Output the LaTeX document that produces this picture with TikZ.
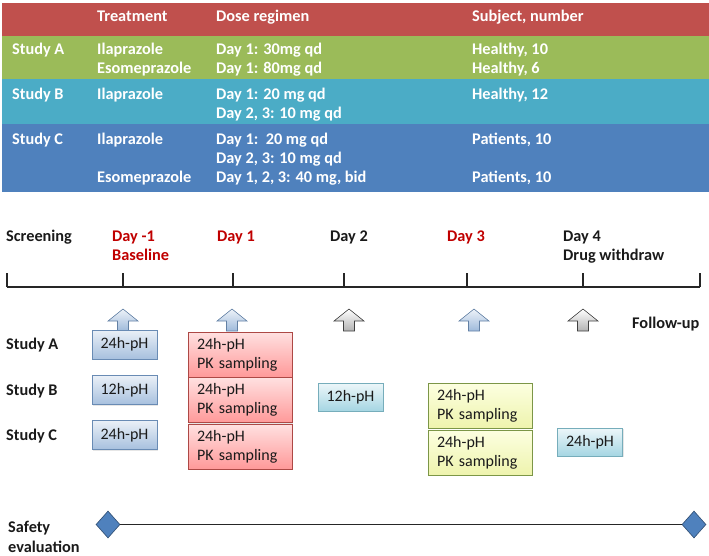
\documentclass[tikz,border=0pt]{standalone}
\usepackage{fontspec}
\setmainfont{Carlito}
\usetikzlibrary{shapes.geometric,shadows}
\definecolor{tabred}{HTML}{C0504D}
\definecolor{tabgreen}{HTML}{9BBB59}
\definecolor{tabcyan}{HTML}{4BACC6}
\definecolor{tabblue}{HTML}{4F81BD}
\definecolor{dayred}{HTML}{C00000}
\definecolor{txt}{HTML}{1A1A1A}
\tikzset{
  ttxt/.style={anchor=base west,inner sep=0pt,text=white,font=\fontsize{16.3}{19}\selectfont\bfseries},
  ltxt/.style={anchor=base west,inner sep=0pt,text=txt,font=\fontsize{16.3}{19}\selectfont\bfseries},
  rtxt/.style={ltxt,text=dayred},
  boxbase/.style={draw,rectangle,inner sep=0pt,text=txt,font=\fontsize{16}{19}\selectfont,
     drop shadow={opacity=0.2,shadow xshift=1.2pt,shadow yshift=-1.2pt}},
  bluebox/.style={boxbase,draw=tabblue!85!black!80,top color=tabblue!12!white,bottom color=tabblue!50!white,minimum width=65pt,minimum height=29pt},
  cyanbox/.style={boxbase,draw=tabcyan!80!black!70,top color=tabcyan!10!white,bottom color=tabcyan!50!white,minimum width=65pt,minimum height=28pt},
  redbox/.style={boxbase,draw=tabred!90!black,top color=red!12!white,bottom color=red!40!white,text width=86pt,align=left,inner xsep=9pt,minimum height=45pt},
  greenbox/.style={boxbase,draw=tabgreen!80!black,top color=green!8!yellow!12!white,bottom color=tabgreen!45!yellow!38!white,text width=86pt,align=left,inner xsep=9pt,minimum height=45pt},
  blueup/.style={draw=tabblue!75!black!80,line width=0.6pt,top color=tabblue!10!white,bottom color=tabblue!55!white},
  grayup/.style={draw=black!75,line width=0.6pt,top color=white,bottom color=black!30},
  gem/.style={diamond,draw=tabblue!60!black,line width=0.6pt,fill=tabblue,minimum width=24pt,minimum height=27pt,inner sep=0pt,aspect=0.9},
}
\begin{document}
\begin{tikzpicture}[x=1pt,y=-1pt]
\useasboundingbox (0,0) rectangle (709,555);
% table backgrounds
\fill[tabred] (2,3) rectangle (709,35.5);
\fill[tabgreen] (2,35.5) rectangle (709,78.5);
\fill[tabcyan] (2,78.5) rectangle (709,124);
\fill[tabblue] (2,124) rectangle (709,192);
% header
\node[ttxt] (hT) at (97,21.5) {Treatment};
\node[ttxt] (hD) at (216,21.5) {Dose regimen};
\node[ttxt] (hS) at (472,21.5) {Subject, number};
% study A
\node[ttxt] (sA) at (12,54.5) {Study A};
\node[ttxt] (aT1) at (97,54.5) {Ilaprazole};
\node[ttxt] (aD1) at (216,54.5) {Day 1: 30mg qd};
\node[ttxt] (aS1) at (472,54.5) {Healthy, 10};
\node[ttxt] (aT2) at (97,73.5) {Esomeprazole};
\node[ttxt] (aD2) at (216,73.5) {Day 1: 80mg qd};
\node[ttxt] (aS2) at (472,73.5) {Healthy, 6};
% study B
\node[ttxt] (sB) at (12,99.5) {Study B};
\node[ttxt] (bT1) at (97,99.5) {Ilaprazole};
\node[ttxt] (bD1) at (216,99.5) {Day 1: 20 mg qd};
\node[ttxt] (bS1) at (472,99.5) {Healthy, 12};
\node[ttxt] (bD2) at (216,118.5) {Day 2, 3: 10 mg qd};
% study C
\node[ttxt] (sC) at (12,144.5) {Study C};
\node[ttxt] (cT1) at (97,144.5) {Ilaprazole};
\node[ttxt] (cD1) at (216,144.5) {Day 1:\ \ 20 mg qd};
\node[ttxt] (cS1) at (472,144.5) {Patients, 10};
\node[ttxt] (cD2) at (216,163.5) {Day 2, 3: 10 mg qd};
\node[ttxt] (cT3) at (97,182.5) {Esomeprazole};
\node[ttxt] (cD3) at (216,182.5) {Day 1, 2, 3: 40 mg, bid};
\node[ttxt] (cS3) at (472,182.5) {Patients, 10};
% timeline labels
\node[ltxt] (scr) at (6,241.5) {Screening};
\node[rtxt] (dm1) at (112,241.5) {Day -1};
\node[rtxt] (base) at (112,260.5) {Baseline};
\node[rtxt] (d1) at (217,241.5) {Day 1};
\node[ltxt] (d2) at (330,241.5) {Day 2};
\node[rtxt] (d3) at (447,241.5) {Day 3};
\node[ltxt] (d4) at (563,241.5) {Day 4};
\node[ltxt] (dw) at (563,260.5) {Drug withdraw};
% timeline
\draw[line width=1.3pt,black!85] (7,287) -- (700,287);
\foreach \x in {7,123,233,344,467,583,700}
  \draw[line width=1.2pt,black!85] (\x,287) -- (\x,273);
% up arrows
\foreach \cx/\st in {123/blueup,232/blueup,349/grayup,474/blueup,583/grayup}
  \path[\st] (\cx,309) -- (\cx+15,321) -- (\cx+5.5,321) -- (\cx+5.5,331)
     -- (\cx-5.5,331) -- (\cx-5.5,321) -- (\cx-15,321) -- cycle;
\node[ltxt] (fu) at (632,328.5) {Follow-up};
% study labels
\node[ltxt] (lA) at (6,349.5) {Study A};
\node[ltxt] (lB) at (6,395) {Study B};
\node[ltxt] (lC) at (6,440) {Study C};
% boxes
\node[bluebox] (a1) at (124.5,344.5) {24h-pH};
\node[bluebox] (b1) at (124.5,390) {12h-pH};
\node[bluebox] (c1) at (124.5,435) {24h-pH};
\node[redbox] (a2) at (240,354.5) {24h-pH\\PK sampling};
\node[redbox] (b2) at (240,400) {24h-pH\\PK sampling};
\node[redbox] (c2) at (240,446.5) {24h-pH\\PK sampling};
\node[cyanbox] (b3) at (350.5,397) {12h-pH};
\node[greenbox] (b4) at (480,405.5) {24h-pH\\PK sampling};
\node[greenbox] (c4) at (480,452.5) {24h-pH\\PK sampling};
\node[cyanbox] (c5) at (590,442) {24h-pH};
% safety
\node[ltxt] (saf1) at (8,532.5) {Safety};
\node[ltxt] (saf2) at (8,552) {evaluation};
\node[gem] (g1) at (108,524.5) {};
\node[gem] (g2) at (694,524.5) {};
\draw[line width=1.3pt,black!85] (g1) -- (g2);
\end{tikzpicture}
\end{document}
